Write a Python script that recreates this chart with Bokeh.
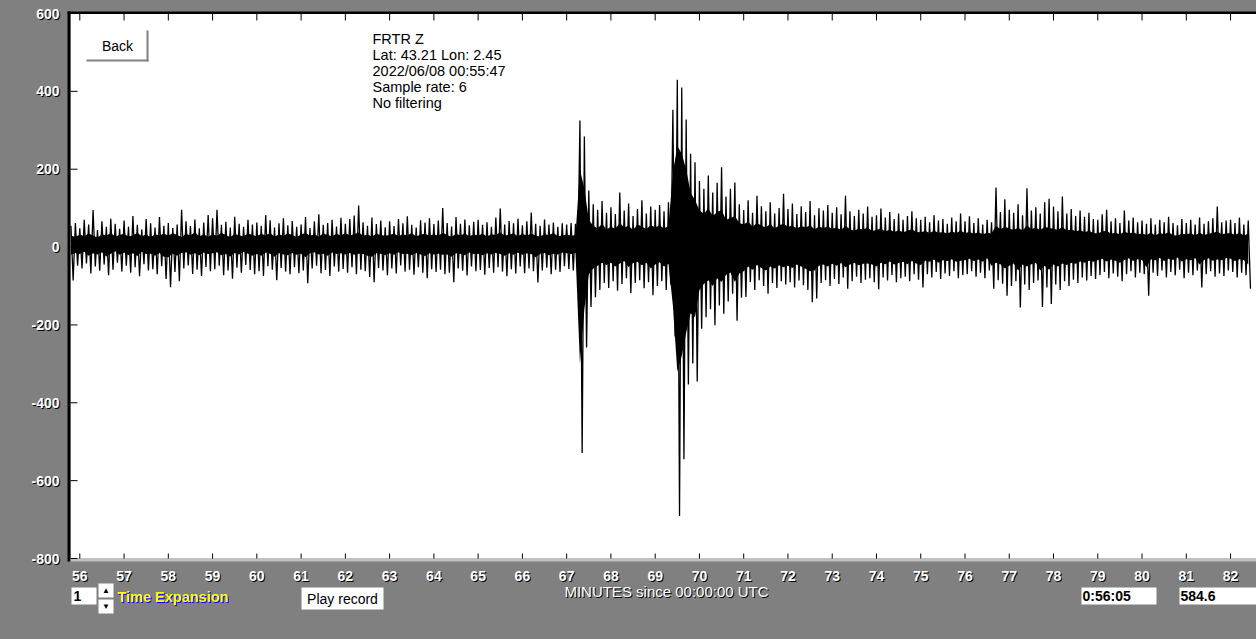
import numpy as np
from bokeh.plotting import figure
from bokeh.models import Label, BoxAnnotation, Range1d, GlobalInlineStyleSheet
from bokeh.embed import file_html
from bokeh.resources import INLINE

# ---------------- data ----------------
t_start = 55.8          # minutes, first envelope bin
bin_step = 0.1          # minutes per envelope bin

# upper envelope (spike tops) per 0.1-minute bin (counts)
hi_vals = [
    55, 62,
    48, 70, 58, 95, 44, 66, 52, 73, 60, 47,
    68, 52, 80, 57, 45, 72, 61, 50, 77, 55,
    62, 49, 58, 96, 66, 54, 71, 48, 63, 82,
    74, 96, 57, 65, 50, 78, 60, 52, 70, 58,
    63, 55, 82, 69, 50, 61, 74, 56, 67, 52,
    58, 77, 49, 66, 84, 57, 62, 70, 53, 75,
    60, 72, 81, 107, 64, 55, 76, 59, 68, 51,
    66, 54, 72, 61, 79, 57, 50, 69, 63, 74,
    59, 68, 100, 62, 53, 77, 60, 71, 56, 65,
    70, 57, 64, 52, 76, 99, 58, 67, 61, 73,
    56, 66, 89, 60, 55, 71, 58, 63, 52, 61,
    58, 62, 60, 325, 284, 145, 110, 96, 118, 88,
    102, 85, 140, 94, 112, 80, 98, 120, 86, 104,
    96, 108, 92, 115, 353, 430, 410, 328, 240, 218,
    170, 150, 184, 140, 165, 205, 130, 150, 166, 110,
    95, 120, 88, 132, 105, 92, 115, 86, 100, 137,
    98, 112, 85, 105, 90, 118, 82, 100, 94, 108,
    88, 102, 84, 132, 92, 80, 96, 86, 104, 78,
    82, 99, 76, 90, 72, 86, 70, 80, 92, 74,
    70, 78, 64, 82, 68, 72, 60, 76, 66, 86,
    66, 79, 62, 74, 58, 70, 64, 153, 90, 123,
    96, 88, 110, 82, 151, 94, 102, 86, 115, 124,
    104, 92, 130, 86, 98, 80, 94, 78, 88, 72,
    70, 84, 96, 66, 74, 62, 94, 68, 76, 64,
    68, 60, 74, 58, 70, 64, 78, 62, 56, 72,
    62, 70, 58, 76, 60, 66, 74, 104, 64, 68,
    70, 62, 76, 58, 68,
]

# lower envelope (spike bottoms) per 0.1-minute bin (counts)
lo_vals = [
    -86, -48,
    -55, -42, -68, -50, -61, -45, -72, -58, -40, -63,
    -48, -66, -52, -75, -44, -60, -57, -70, -49, -82,
    -103, -64, -88, -55, -47, -69, -58, -74, -51, -62,
    -57, -48, -72, -60, -81, -53, -66, -46, -59, -70,
    -62, -74, -49, -58, -85, -54, -63, -70, -52, -67,
    -60, -93, -55, -48, -67, -59, -74, -50, -63, -56,
    -66, -52, -70, -58, -62, -77, -90, -54, -60, -72,
    -55, -68, -47, -63, -58, -71, -52, -66, -80, -57,
    -64, -58, -70, -66, -90, -55, -61, -73, -50, -62,
    -59, -71, -54, -66, -52, -63, -75, -57, -68, -50,
    -67, -55, -62, -91, -60, -53, -70, -58, -64, -49,
    -56, -60, -54, -529, -258, -154, -129, -110, -92, -105,
    -88, -112, -95, -80, -118, -92, -85, -106, -90, -124,
    -100, -88, -110, -96, -230, -691, -545, -353, -299, -345,
    -210, -180, -160, -201, -150, -171, -140, -120, -189, -130,
    -128, -90, -110, -85, -100, -120, -92, -105, -88, -96,
    -90, -104, -86, -98, -110, -142, -132, -92, -85, -100,
    -82, -95, -78, -107, -88, -76, -92, -84, -80, -90,
    -108, -78, -86, -72, -90, -80, -76, -88, -70, -84,
    -104, -70, -78, -64, -82, -68, -74, -62, -80, -72,
    -70, -62, -76, -66, -80, -60, -107, -85, -94, -125,
    -100, -88, -155, -96, -110, -92, -86, -154, -104, -146,
    -96, -110, -88, -100, -84, -92, -78, -86, -74, -82,
    -72, -64, -80, -68, -76, -88, -70, -62, -78, -66,
    -70, -125, -66, -74, -60, -78, -64, -72, -58, -80,
    -66, -72, -60, -104, -70, -62, -76, -68, -74, -60,
    -64, -78, -66, -72, -107,
]

# dense (solid black) core of the trace, per 0.1-minute bin (counts)
core_hi = [
    30, 26,
    32, 28, 35, 30, 24, 33, 29, 36, 27, 31,
    34, 27, 30, 37, 28, 32, 25, 33, 30, 35,
    29, 36, 31, 26, 34, 30, 38, 28, 32, 27,
    33, 29, 36, 31, 25, 34, 30, 28, 35, 31,
    28, 34, 30, 36, 27, 32, 29, 35, 31, 26,
    32, 37, 29, 33, 27, 35, 31, 28, 34, 30,
    36, 30, 33, 38, 29, 32, 27, 34, 31, 29,
    31, 35, 28, 33, 30, 36, 27, 32, 34, 29,
    33, 29, 37, 31, 26, 34, 30, 35, 28, 32,
    30, 34, 27, 33, 31, 38, 29, 32, 35, 28,
    34, 29, 35, 30, 27, 33, 31, 36, 28, 30,
    32, 29, 31, 200, 150, 70, 55, 48, 60, 45,
    52, 47, 62, 50, 55, 44, 58, 53, 46, 57,
    50, 56, 48, 54, 190, 260, 240, 200, 140, 120,
    95, 85, 100, 80, 90, 95, 70, 75, 80, 62,
    58, 66, 52, 62, 55, 50, 60, 48, 56, 60,
    52, 55, 48, 54, 50, 56, 46, 52, 49, 53,
    47, 50, 44, 55, 46, 42, 48, 45, 50, 41,
    44, 48, 40, 45, 39, 43, 38, 42, 46, 39,
    38, 41, 36, 42, 37, 39, 35, 40, 36, 42,
    36, 39, 34, 38, 33, 37, 35, 55, 45, 52,
    48, 44, 50, 42, 56, 46, 50, 43, 52, 49,
    47, 44, 52, 42, 46, 40, 44, 38, 42, 36,
    35, 40, 42, 34, 37, 32, 40, 35, 38, 33,
    35, 31, 37, 30, 36, 33, 38, 31, 29, 35,
    32, 36, 30, 37, 31, 34, 36, 40, 33, 35,
    36, 31, 37, 30, 34,
]
core_lo = [
    -20, -15,
    -18, -12, -22, -16, -19, -13, -24, -17, -11, -20,
    -14, -21, -16, -23, -12, -18, -17, -22, -15, -25,
    -26, -17, -22, -15, -13, -20, -16, -21, -14, -18,
    -16, -13, -21, -18, -24, -15, -19, -12, -17, -22,
    -18, -22, -14, -17, -25, -15, -19, -21, -15, -20,
    -17, -26, -16, -13, -19, -17, -22, -14, -18, -16,
    -19, -15, -20, -17, -18, -22, -25, -16, -17, -21,
    -16, -20, -13, -18, -17, -21, -15, -19, -23, -16,
    -19, -17, -20, -19, -25, -16, -18, -21, -14, -18,
    -17, -21, -16, -19, -15, -18, -22, -16, -20, -14,
    -20, -16, -18, -26, -17, -15, -21, -17, -19, -14,
    -16, -18, -15, -300, -160, -70, -55, -48, -40, -46,
    -40, -50, -42, -36, -52, -41, -38, -47, -40, -55,
    -45, -39, -50, -43, -150, -320, -280, -220, -170, -180,
    -110, -95, -85, -100, -80, -90, -72, -65, -90, -68,
    -62, -50, -58, -46, -54, -60, -50, -55, -47, -52,
    -48, -54, -45, -50, -56, -62, -60, -48, -45, -50,
    -43, -48, -41, -52, -45, -40, -47, -43, -42, -45,
    -50, -40, -44, -37, -45, -41, -38, -44, -36, -42,
    -46, -35, -38, -32, -40, -34, -36, -31, -38, -35,
    -34, -30, -36, -32, -38, -29, -48, -40, -44, -55,
    -48, -42, -60, -45, -50, -44, -40, -60, -48, -58,
    -45, -50, -42, -46, -40, -43, -37, -40, -35, -38,
    -34, -30, -37, -32, -35, -40, -33, -29, -36, -31,
    -33, -52, -31, -34, -28, -36, -30, -33, -27, -37,
    -31, -34, -28, -45, -33, -29, -35, -32, -34, -28,
    -30, -36, -31, -33, -45,
]

minute_ticks = list(range(56, 83))
amp_ticks = [-800, -600, -400, -200, 0, 200, 400, 600]
info_lines = ["FRTR  Z", "Lat: 43.21 Lon: 2.45", "2022/06/08 00:55:47",
              "Sample rate: 6", "No filtering"]
x_title = "MINUTES since 00:00:00 UTC"
expansion_value = "1"
time_box = "0:56:05"
value_box = "584.6"

# ---------------- placement helpers (screen pixel -> data) ----------------
def xd(px):
    return 56 + (px - 79.3) / 44.26

def yd(py):
    return 600 - (py - 13) * 1400 / 545

GRAY = "#808080"
FONT = "Liberation Sans"
W, H = 1256, 639

# the frame covers the whole canvas so that every text can be placed freely
p = figure(width=W, height=H, output_backend="svg", toolbar_location=None,
           x_range=Range1d(xd(0), xd(W)), y_range=Range1d(yd(H), yd(0)),
           x_axis_location=None, y_axis_location=None,
           min_border=0, min_border_left=0, min_border_right=0,
           min_border_top=0, min_border_bottom=0)
p.stylesheets = [GlobalInlineStyleSheet(css="html, body { background-color: #808080; }")]
p.background_fill_color = GRAY
p.border_fill_color = GRAY
p.outline_line_color = None
p.grid.grid_line_color = None

def box(l, r, t, b, color, level="underlay"):
    p.add_layout(BoxAnnotation(left=xd(l), right=xd(r), top=yd(t), bottom=yd(b),
                               fill_color=color, fill_alpha=1, line_color=None,
                               level=level))

# plot area and its borders
box(70, W, 12, 558, "white")
box(67, W, 11, 13.5, "black")
box(67, 70, 11, 561, "black")
box(70, W, 558, 561, "#c0c0c0")

# ticks (positions from the tick arrays through the scales)
p.segment(x0=minute_ticks, x1=minute_ticks, y0=yd(13), y1=yd(20),
          line_color="black", line_width=1)
p.segment(x0=minute_ticks, x1=minute_ticks, y0=yd(558), y1=yd(553),
          line_color="black", line_width=1)
p.segment(x0=xd(70), x1=xd(77), y0=amp_ticks, y1=amp_ticks,
          line_color="black", line_width=1)

# ---------------- trace ----------------
t = t_start + bin_step * np.arange(len(hi_vals))
p.varea(x=t, y1=core_lo, y2=core_hi, fill_color="black")

xs = np.empty(2 * len(t))
ys = np.empty(2 * len(t))
xs[0::2] = t
xs[1::2] = t + bin_step / 2
ys[0::2] = hi_vals
ys[1::2] = lo_vals
p.line(xs, ys, line_color="black", line_width=1.3)

# ---------------- texts ----------------
def lab(x, y, s, color="black", size="14px", bold=False, align="left",
        baseline="middle", **kw):
    p.add_layout(Label(x=x, y=y, text=s, text_color=color, text_font=FONT,
                       text_font_size=size,
                       text_font_style="bold" if bold else "normal",
                       text_align=align, text_baseline=baseline, **kw))

one_px_x = 1 / 44.26
one_px_y = 1400 / 545

def shadow_lab(x, y, s, color="white", shadow="black", **kw):
    lab(x + one_px_x, y - one_px_y, s, color=shadow, **kw)
    lab(x, y, s, color=color, **kw)

for v in amp_ticks:
    shadow_lab(xd(59), v, str(v), bold=True, align="right")
for m in minute_ticks:
    shadow_lab(m, yd(575), str(m), bold=True, align="center")

shadow_lab(xd(666), yd(591), x_title, size="15px", align="center")
shadow_lab(xd(117), yd(596), "Time Expansion", color="#ffff00", shadow="#0000ff",
           size="14.5px", bold=True)

for i, line in enumerate(info_lines):
    lab(xd(372), yd(38 + 16.2 * i), line, size="14.5px")

# Back button
box(146, 148, 30, 61, GRAY, level="annotation")
box(86, 148, 59, 61, GRAY, level="annotation")
lab(xd(117), yd(45), "Back", align="center")

# bottom controls
box(71, 96, 587, 604, "white", level="annotation")
lab(xd(73), yd(595.5), expansion_value, bold=True)
box(98, 113, 583, 597, "white", level="annotation")
lab(xd(105.5), yd(590), "▲", size="8px", align="center")
box(98, 113, 599, 613, "white", level="annotation")
lab(xd(105.5), yd(606), "▼", size="8px", align="center")
box(301, 383, 587, 609, "white", level="annotation")
lab(xd(342), yd(598), "Play record", align="center")
box(1081, 1156, 587, 604, "white", level="annotation")
lab(xd(1082), yd(595.5), time_box, bold=True)
box(1179, W, 587, 604, "white", level="annotation")
lab(xd(1180), yd(595.5), value_box, bold=True)

open("out.html", "w").write(file_html(p, INLINE))
